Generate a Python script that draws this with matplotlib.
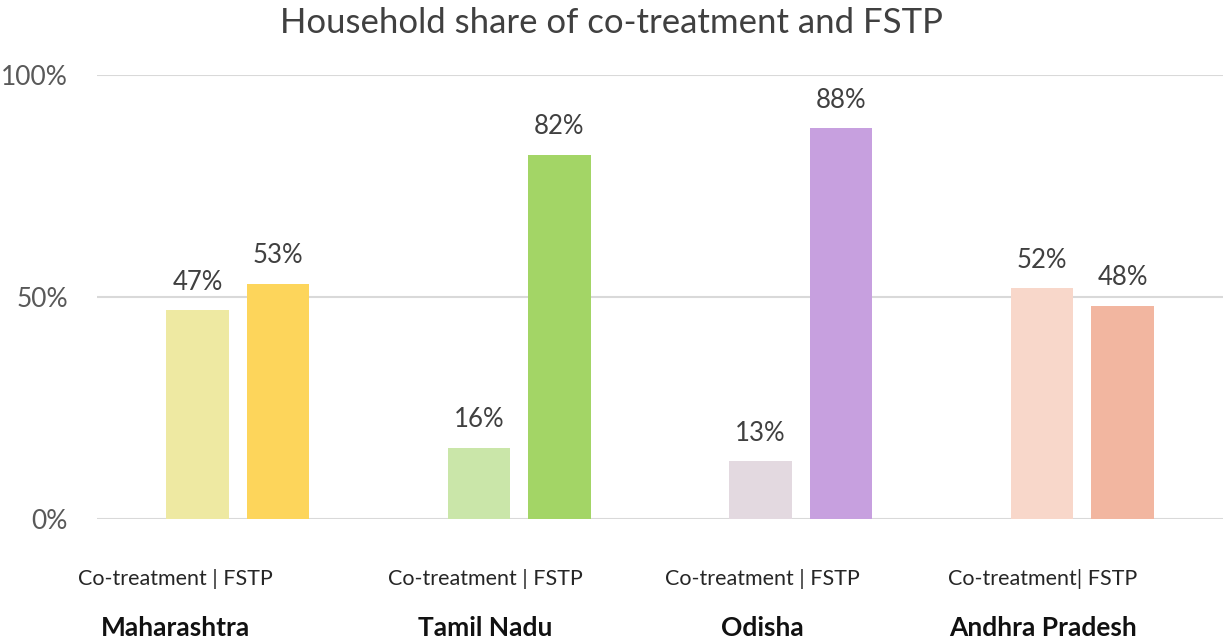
import numpy as np
import matplotlib.pyplot as plt

plt.rcParams['font.family'] = ['Lato', 'DejaVu Sans']

states = ['Maharashtra', 'Tamil Nadu', 'Odisha', 'Andhra Pradesh']
sublabels = ['Co-treatment | FSTP', 'Co-treatment | FSTP', 'Co-treatment | FSTP', 'Co-treatment| FSTP']
cotreatment = [0.47, 0.16, 0.13, 0.52]
fstp = [0.53, 0.82, 0.88, 0.48]
cot_colors = ['#EEE9A2', '#CAE6A9', '#E3D9E0', '#F8D7CA']
fstp_colors = ['#FDD55B', '#A3D566', '#C7A0DF', '#F2B6A0']

fig = plt.figure(figsize=(12.23, 6.43), dpi=100)
ax = fig.add_axes([0.0793, 0.1929, 0.9207, 0.6905])

x = np.arange(len(states))
off = 0.143
w = 0.222
ax.bar(x - off, cotreatment, w, color=cot_colors, zorder=2)
ax.bar(x + off, fstp, w, color=fstp_colors, zorder=2)

for xi, v in zip(x - off, cotreatment):
    ax.text(xi, v + 0.035, f'{v:.0%}', ha='center', va='bottom', fontsize=18.5, color='#404040')
for xi, v in zip(x + off, fstp):
    ax.text(xi, v + 0.035, f'{v:.0%}', ha='center', va='bottom', fontsize=18.5, color='#404040')

ax.set_xlim(-0.5, 3.5)
ax.set_ylim(0, 1)
ax.set_yticks([0, 0.5, 1.0])
ax.set_yticklabels(['0%', '50%', '100%'], fontsize=19, color='#595959')
ax.tick_params(axis='y', length=0, pad=21)
ax.set_xticks([])
ax.grid(axis='y', color='#D9D9D9', linewidth=1.5, zorder=0)
for s in ax.spines.values():
    s.set_visible(False)

# category labels sit a bit left of the group centre, like in the original
shift = [-0.22, -0.12, -0.135, -0.14]
for xi, dx, sub, st in zip(x, shift, sublabels, states):
    ax.text(xi + dx, -0.135, sub, ha='center', va='center', fontsize=15.5, color='#262626',
            clip_on=False)
    ax.text(xi + dx, -0.245, st, ha='center', va='center', fontsize=19, fontweight='bold',
            color='#111111', clip_on=False)

fig.text(0.5, 0.965, 'Household share of co-treatment and FSTP', ha='center', va='center',
         fontsize=25, color='#404040')

fig.savefig('out.png', dpi=100)
